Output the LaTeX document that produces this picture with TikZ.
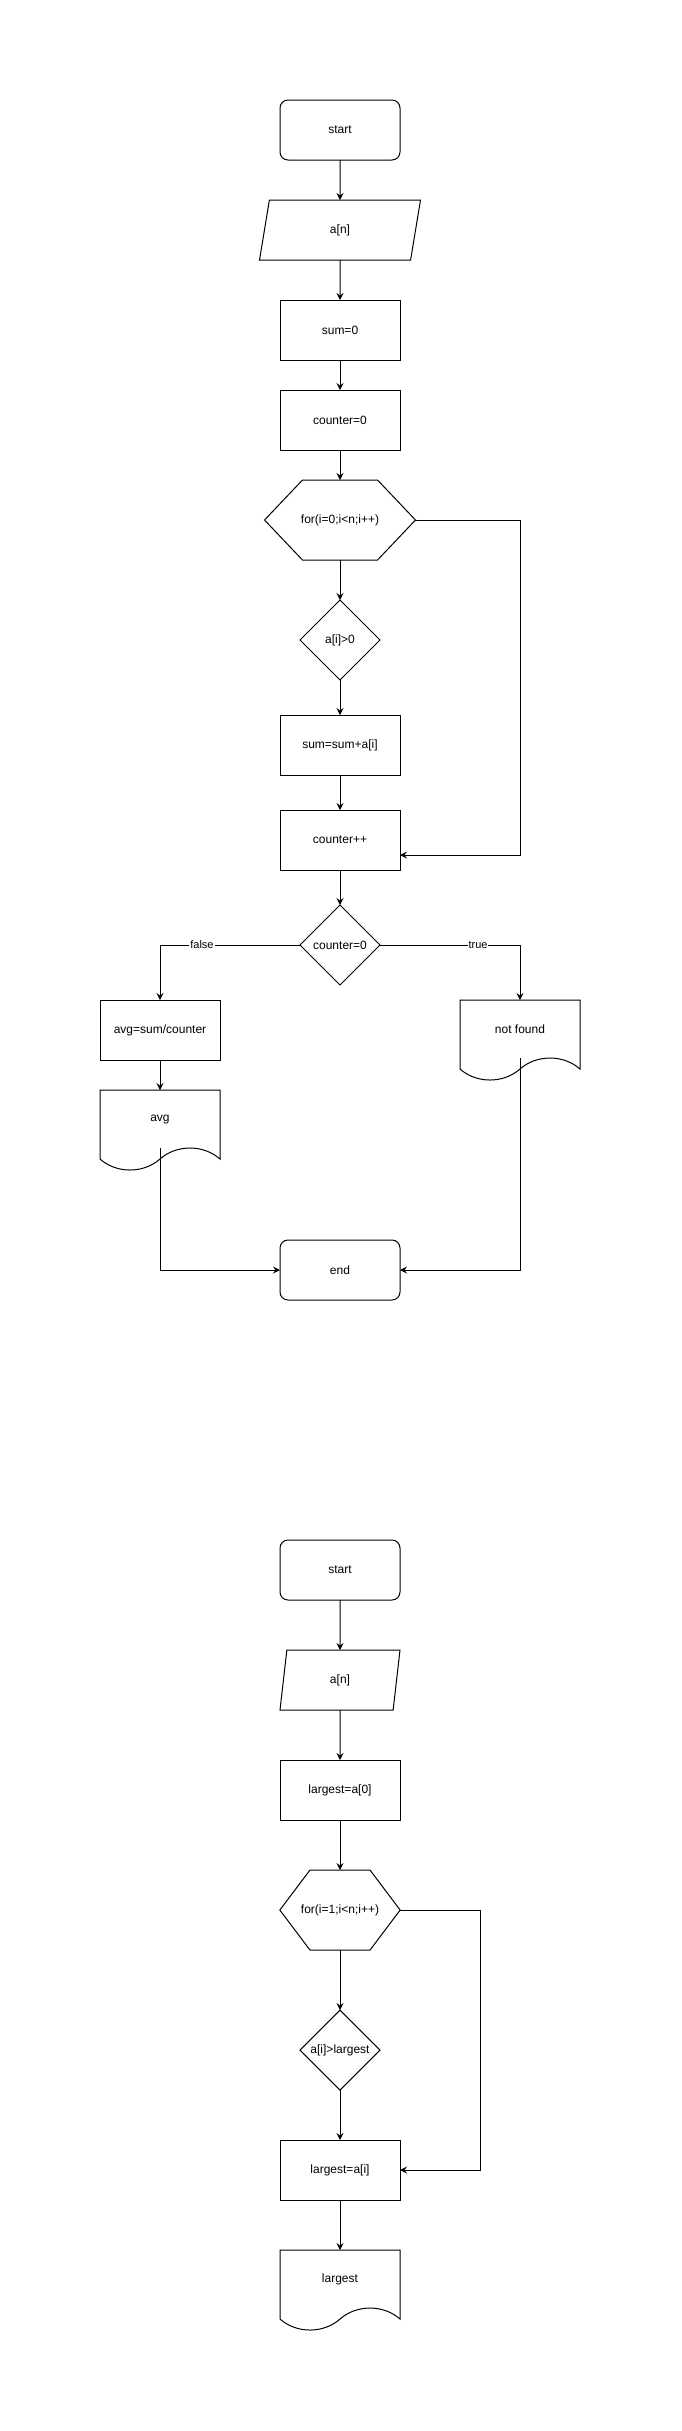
\documentclass[tikz,border=0pt]{standalone}
\usepackage{fontspec}
\setmainfont{Liberation Sans}
\usetikzlibrary{positioning,shapes.geometric,shapes.symbols,arrows.meta}

\begin{document}
\begin{tikzpicture}[->, >={Stealth[length=7pt,width=7pt,inset=2.5pt]}, line width=1pt, node distance=30pt,
    term node/.style={rectangle, rounded corners=8pt, draw, minimum width=120pt, minimum height=60pt},
    proc node/.style={rectangle, draw, minimum width=120pt, minimum height=60pt},
    io node/.style={trapezium, draw, trapezium stretches body, minimum height=60pt},
    loop node/.style={signal, signal to=east and west, draw, minimum height=80pt},
    cond node/.style={diamond, draw, shape aspect=1, inner sep=0pt, minimum width=80pt, minimum height=80pt},
    doc node/.style={tape, tape bend top=none, tape bend bottom=in and out, tape bend height=22pt, draw, minimum width=120pt, minimum height=80pt}]
    \tikzstyle{every node}=[font=\fontsize{12}{14}\selectfont, outer sep=0pt]
    \useasboundingbox (0,0) rectangle (681pt,-2431pt);

    % average of positive numbers
    \node[term node] (1) at (340pt,-130pt) {start};
    \node[io node, trapezium left angle=61, trapezium right angle=119, minimum width=161pt] (2) [below=40pt of 1] {a[n]};
    \node[proc node] (3) [below=40pt of 2] {sum=0};
    \node[proc node] (4) [below=of 3] {counter=0};
    \node[loop node, signal pointer angle=93, inner xsep=-1.5pt, minimum width=150pt] (5) [below=of 4] {for(i=0;i<n;i++)};
    \node[cond node] (6) [below=40pt of 5] {a[i]>0};
    \node[proc node] (7) [below=35pt of 6] {sum=sum+a[i]};
    \node[proc node] (8) [below=35pt of 7] {counter++};
    \node[cond node] (9) [below=35pt of 8] {counter=0};
    \node[proc node] (10) [below=15pt of 9, xshift=-180pt] {avg=sum/counter};
    \node[doc node] (11) [below=of 10] {avg};
    \node[doc node] (12) [below=15pt of 9, xshift=180pt] {not found};
    \node[term node] (13) [below=255pt of 9] {end};

    \path (1) edge (2)
          (2) edge (3)
          (3) edge (4)
          (4) edge (5)
          (5) edge (6)
          (6) edge (7)
          (7) edge (8)
          (8) edge (9)
          (10) edge (11);
    \draw (5.east) -- ++(105pt,0) |- ([yshift=-15pt]8.east);
    \draw[every node/.style={fill=white, inner sep=1pt, font=\fontsize{11}{13}\selectfont}]
        (9.west) -| node[pos=0.35] {false} (10.north);
    \draw[every node/.style={fill=white, inner sep=1pt, font=\fontsize{11}{13}\selectfont}]
        (9.east) -| node[pos=0.35] {true} (12.north);
    \draw (11.south) |- (13.west);
    \draw (12.south) |- (13.east);

    % largest element
    \node[term node] (14) [below=240pt of 13] {start};
    \node[io node, trapezium left angle=69, trapezium right angle=111, minimum width=120pt] (15) [below=50pt of 14] {a[n]};
    \node[proc node] (16) [below=50pt of 15] {largest=a[0]};
    \node[loop node, signal pointer angle=106, inner xsep=-9pt, minimum width=120pt] (17) [below=50pt of 16] {for(i=1;i<n;i++)};
    \node[cond node] (18) [below=60pt of 17] {a[i]>largest};
    \node[proc node] (19) [below=50pt of 18] {largest=a[i]};
    \node[doc node] (20) [below=50pt of 19] {largest};

    \path (14) edge (15)
          (15) edge (16)
          (16) edge (17)
          (17) edge (18)
          (18) edge (19)
          (19) edge (20);
    \draw (17.east) -- ++(80pt,0) |- (19.east);
\end{tikzpicture}
\end{document}
